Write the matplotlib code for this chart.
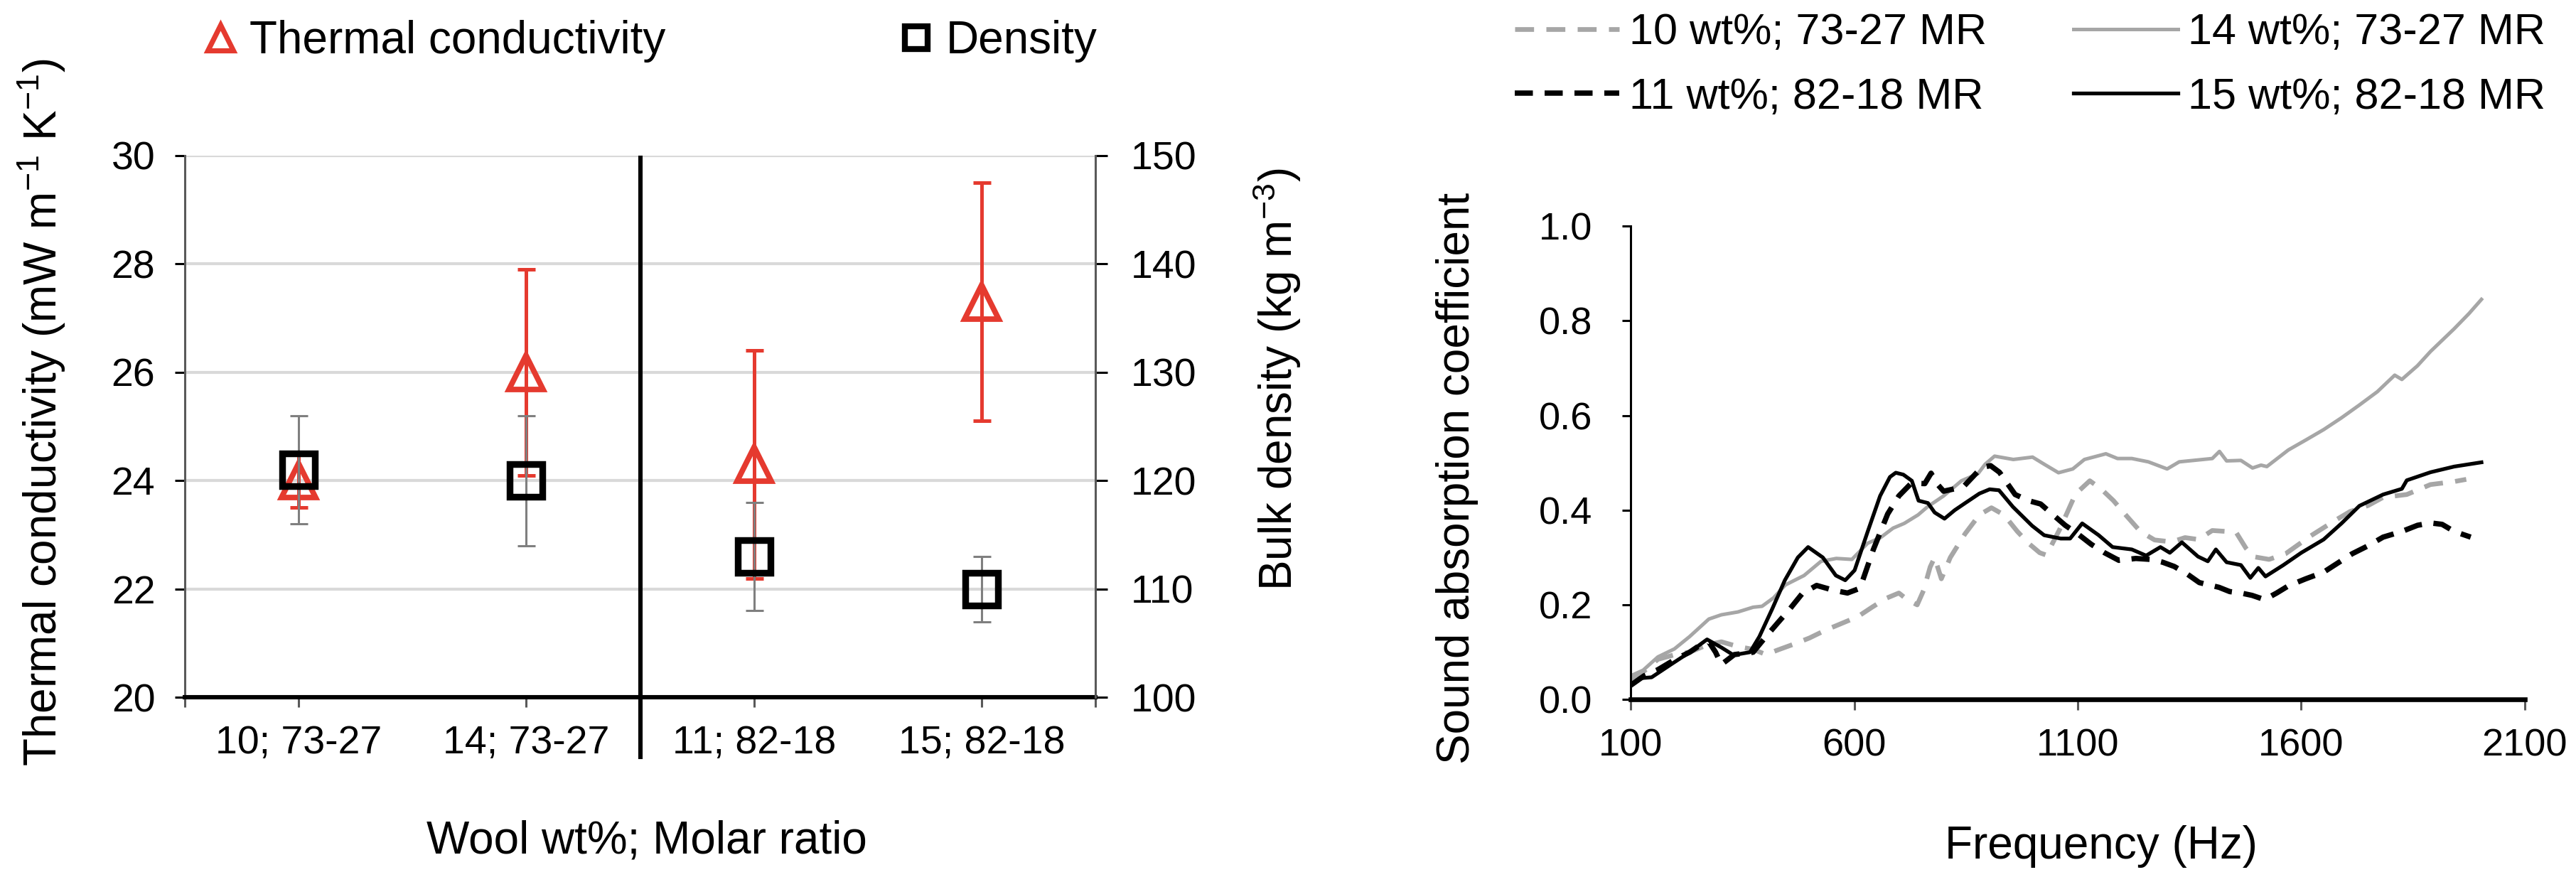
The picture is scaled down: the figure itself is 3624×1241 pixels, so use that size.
import matplotlib
matplotlib.use('Agg')
import matplotlib.pyplot as plt
from matplotlib.lines import Line2D
from matplotlib.ticker import FormatStrFormatter, FixedLocator

plt.rcParams['font.family'] = ['Liberation Sans', 'DejaVu Sans']
plt.rcParams['mathtext.fontset'] = 'custom'
plt.rcParams['mathtext.rm'] = 'Liberation Sans'
plt.rcParams['mathtext.it'] = 'Liberation Sans:italic'
plt.rcParams['mathtext.bf'] = 'Liberation Sans:bold'

# ---------------- data: left panel ----------------
categories = ['10; 73-27', '14; 73-27', '11; 82-18', '15; 82-18']
tc_mean = [24.0, 26.0, 24.3, 27.3]
tc_err = [0.5, 1.9, 2.1, 2.2]
dens_mean = [121, 120, 113, 110]
dens_err = [5, 6, 5, 3]

# ---------------- data: right panel ----------------
f_10 = [100, 130, 161, 200, 232, 270, 303, 340, 374, 403, 430, 465, 500, 537, 570, 608, 640, 672,
        700, 720, 741, 755, 770, 780, 795, 815, 848, 880, 907, 935, 965, 990, 1015, 1030, 1060,
        1095, 1127, 1152, 1180, 1210, 1240, 1272, 1310, 1340, 1370, 1401, 1433, 1455, 1476, 1491,
        1528, 1565, 1620, 1677, 1709, 1750, 1783, 1836, 1889, 1940, 1969]
a_10 = [0.04, 0.06, 0.085, 0.095, 0.10, 0.115, 0.122, 0.112, 0.106, 0.095, 0.105, 0.117, 0.13,
        0.147, 0.16, 0.175, 0.195, 0.214, 0.225, 0.21, 0.20, 0.23, 0.28, 0.30, 0.255, 0.30, 0.35,
        0.39, 0.405, 0.39, 0.355, 0.33, 0.31, 0.305, 0.36, 0.434, 0.462, 0.445, 0.42, 0.387, 0.355,
        0.337, 0.333, 0.342, 0.338, 0.357, 0.355, 0.352, 0.32, 0.302, 0.296, 0.308, 0.345, 0.379,
        0.397, 0.41, 0.427, 0.433, 0.454, 0.46, 0.465]

f_14 = [100, 128, 161, 198, 232, 275, 303, 340, 374, 394, 420, 446, 488, 526, 560, 595, 630, 659,
        687, 712, 743, 764, 800, 840, 877, 893, 914, 956, 999, 1025, 1057, 1089, 1115, 1163, 1189,
        1221, 1258, 1300, 1327, 1380, 1401, 1417, 1433, 1465, 1491, 1510, 1523, 1571, 1610, 1650,
        1690, 1730, 1770, 1809, 1825, 1860, 1889, 1942, 1975, 2003]
a_14 = [0.05, 0.062, 0.09, 0.107, 0.133, 0.17, 0.179, 0.185, 0.195, 0.197, 0.215, 0.242, 0.262,
        0.292, 0.298, 0.296, 0.33, 0.342, 0.362, 0.372, 0.39, 0.407, 0.43, 0.462, 0.477, 0.497,
        0.514, 0.507, 0.512, 0.497, 0.479, 0.487, 0.507, 0.519, 0.509, 0.509, 0.502, 0.487, 0.502,
        0.507, 0.509, 0.524, 0.504, 0.505, 0.489, 0.495, 0.492, 0.527, 0.548, 0.57, 0.595, 0.622,
        0.65, 0.685, 0.676, 0.705, 0.735, 0.783, 0.815, 0.845]

f_11 = [100, 130, 161, 200, 232, 260, 275, 290, 303, 332, 374, 400, 430, 455, 484, 516, 553, 585,
        613, 643, 675, 700, 728, 758, 772, 785, 800, 844, 885, 905, 925, 960, 990, 1017, 1045, 1072,
        1100, 1130, 1160, 1192, 1230, 1263, 1290, 1316, 1345, 1372, 1416, 1440, 1465, 1490, 1518,
        1545, 1571, 1610, 1650, 1714, 1750, 1783, 1825, 1860, 1889, 1915, 1942, 1979]
a_11 = [0.03, 0.05, 0.063, 0.085, 0.10, 0.118, 0.122, 0.10, 0.074, 0.095, 0.10, 0.13, 0.163, 0.19,
        0.224, 0.241, 0.231, 0.225, 0.235, 0.317, 0.392, 0.43, 0.457, 0.456, 0.478, 0.456, 0.44,
        0.449, 0.49, 0.494, 0.48, 0.433, 0.42, 0.413, 0.39, 0.368, 0.35, 0.328, 0.31, 0.294, 0.298,
        0.296, 0.29, 0.281, 0.265, 0.247, 0.237, 0.228, 0.225, 0.22, 0.211, 0.225, 0.24, 0.255,
        0.269, 0.308, 0.325, 0.343, 0.355, 0.368, 0.373, 0.37, 0.355, 0.343]

f_15 = [100, 120, 147, 190, 232, 271, 303, 330, 367, 388, 417, 445, 474, 497, 530, 559, 580, 601,
        630, 658, 680, 693, 710, 729, 744, 765, 780, 802, 825, 850, 880, 903, 924, 955, 998, 1025,
        1062, 1083, 1110, 1147, 1178, 1221, 1253, 1285, 1306, 1333, 1369, 1391, 1409, 1433, 1465,
        1486, 1504, 1520, 1560, 1600, 1650, 1690, 1730, 1783, 1825, 1836, 1889, 1942, 2003]
a_15 = [0.03, 0.045, 0.047, 0.074, 0.10, 0.127, 0.11, 0.094, 0.10, 0.133, 0.192, 0.252, 0.30,
        0.322, 0.30, 0.262, 0.252, 0.273, 0.354, 0.43, 0.47, 0.479, 0.475, 0.462, 0.42, 0.415,
        0.395, 0.382, 0.40, 0.416, 0.435, 0.444, 0.442, 0.407, 0.367, 0.347, 0.34, 0.34, 0.372,
        0.347, 0.322, 0.317, 0.304, 0.322, 0.31, 0.332, 0.302, 0.292, 0.317, 0.29, 0.284, 0.257,
        0.278, 0.26, 0.284, 0.31, 0.338, 0.372, 0.409, 0.433, 0.445, 0.463, 0.48, 0.492, 0.501]

series_labels = ['10 wt%; 73-27 MR', '14 wt%; 73-27 MR', '11 wt%; 82-18 MR', '15 wt%; 82-18 MR']

RED = '#E53A2F'
GRAY_ERR = '#7F7F7F'
LGRAY = '#A6A6A6'
SPINE = '#595959'

TICK_FS = 20
LAB_FS = 23

W, H = 3624, 1241
DPI = 200
fig = plt.figure(figsize=(W / DPI, H / DPI), dpi=DPI)

# ---------------- left panel ----------------
ax = fig.add_axes([260 / W, 1 - 981.4 / H, (1541 - 260) / W, (981.4 - 218.6) / H])
x = list(range(len(categories)))
ax.set_xlim(-0.5, 3.5)
ax.set_ylim(20, 30)
ax.set_yticks([20, 22, 24, 26, 28, 30])
ax.yaxis.grid(True, color='#D9D9D9', lw=1.5, zorder=0)
ax.set_axisbelow(True)
for s in ['top', 'right']:
    ax.spines[s].set_visible(False)
ax.spines['left'].set_color(SPINE)
ax.spines['left'].set_linewidth(1.1)
ax.spines['bottom'].set_color('black')
ax.spines['bottom'].set_linewidth(2.2)
ax.set_xticks(x)
ax.set_xticklabels(categories)
ax.xaxis.set_minor_locator(FixedLocator([-0.5, 3.5]))
ax.tick_params(axis='x', which='both', direction='out', length=5, width=1.1, color=SPINE,
               labelsize=TICK_FS, pad=9)
ax.tick_params(axis='y', direction='out', length=5, width=1.1, color='black',
               labelsize=TICK_FS, pad=10)

ax.errorbar(x, tc_mean, yerr=tc_err, fmt='none', ecolor=RED, elinewidth=1.8,
            capsize=4.5, capthick=1.8, zorder=4)
ax.plot(x, tc_mean, linestyle='none', marker='^', markersize=17, markerfacecolor='none',
        markeredgecolor=RED, markeredgewidth=2.8, zorder=5)
ax.axvline(1.5, ymin=-0.11, ymax=0.995, color='black', lw=2.2, clip_on=False, zorder=6)

ax.set_xlabel('Wool wt%; Molar ratio', fontsize=LAB_FS)
ax.xaxis.set_label_coords(0.507, -0.225)
ax.set_ylabel('Thermal conductivity (mW m$^{-1}$ K$^{-1}$)', fontsize=LAB_FS)
ax.yaxis.set_label_coords(-0.129, 0.526)

ax2 = ax.twinx()
ax2.set_ylim(100, 150)
ax2.set_yticks([100, 110, 120, 130, 140, 150])
for s in ['top', 'left', 'bottom']:
    ax2.spines[s].set_visible(False)
ax2.spines['right'].set_color(SPINE)
ax2.spines['right'].set_linewidth(1.1)
ax2.tick_params(axis='y', direction='out', length=6, width=1.1, color='black',
                labelsize=TICK_FS, pad=12)
ax2.errorbar(x, dens_mean, yerr=dens_err, fmt='none', ecolor=GRAY_ERR, elinewidth=1.1,
             capsize=4.5, capthick=1.1, zorder=3)
ax2.plot(x, dens_mean, linestyle='none', marker='s', markersize=16.5, markerfacecolor='none',
         markeredgecolor='black', markeredgewidth=3.4, zorder=4)
ax2.set_ylabel('Bulk density (kg m$^{-3}$)', fontsize=LAB_FS)
ax2.yaxis.set_label_coords(1.171, 0.587)

h_tc = Line2D([], [], linestyle='none', marker='^', markersize=13, markerfacecolor='none',
              markeredgecolor=RED, markeredgewidth=2.6)
h_d = Line2D([], [], linestyle='none', marker='s', markersize=11.5, markerfacecolor='none',
             markeredgecolor='black', markeredgewidth=3.0)
fig.legend(handles=[h_tc], labels=['Thermal conductivity'], loc='center left',
           bbox_to_anchor=(278 / W, 1 - 58 / H), frameon=False, fontsize=LAB_FS,
           handlelength=1.0, handletextpad=0.15, borderpad=0, borderaxespad=0)
fig.legend(handles=[h_d], labels=['Density'], loc='center left',
           bbox_to_anchor=(1257 / W, 1 - 58 / H), frameon=False, fontsize=LAB_FS,
           handlelength=1.0, handletextpad=0.15, borderpad=0, borderaxespad=0)

# ---------------- right panel ----------------
bx = fig.add_axes([2294 / W, 1 - 984.3 / H, (3552 - 2294) / W, (984.3 - 318) / H])
bx.set_xlim(100, 2100)
bx.set_ylim(0, 1.0)
bx.set_xticks([100, 600, 1100, 1600, 2100])
bx.set_yticks([0.0, 0.2, 0.4, 0.6, 0.8, 1.0])
bx.yaxis.set_major_formatter(FormatStrFormatter('%.1f'))
for s in ['top', 'right']:
    bx.spines[s].set_visible(False)
bx.spines['left'].set_color('black')
bx.spines['left'].set_linewidth(1.1)
bx.spines['bottom'].set_color('black')
bx.spines['bottom'].set_linewidth(2.4)
bx.tick_params(axis='x', direction='out', length=5.5, width=1.1, color=SPINE,
               labelsize=19.5, pad=9)
bx.tick_params(axis='y', direction='out', length=4.5, width=1.1, color='black',
               labelsize=19.5, pad=15)

bx.plot(f_10, a_10, color=LGRAY, lw=2.4, linestyle=(0, (4, 2.6)), label=series_labels[0])
bx.plot(f_14, a_14, color=LGRAY, lw=1.8, linestyle='-', label=series_labels[1])
bx.plot(f_11, a_11, color='black', lw=2.7, linestyle=(0, (3.4, 2.2)), label=series_labels[2])
bx.plot(f_15, a_15, color='black', lw=1.9, linestyle='-', label=series_labels[3])

bx.set_xlabel('Frequency (Hz)', fontsize=LAB_FS)
bx.xaxis.set_label_coords(0.526, -0.265)
bx.set_ylabel('Sound absorption coefficient', fontsize=LAB_FS)
bx.yaxis.set_label_coords(-0.170, 0.467)

handles, labels = bx.get_legend_handles_labels()
order = [0, 2, 1, 3]  # legend fills column by column
fig.legend([handles[i] for i in order], [labels[i] for i in order], ncol=2,
           loc='center left', bbox_to_anchor=(2131 / W, 1 - 91.75 / H), frameon=False,
           fontsize=22, handlelength=2.4, handletextpad=0.23, columnspacing=2.0,
           labelspacing=0.55, borderpad=0, borderaxespad=0)

fig.savefig('out.png', dpi=DPI)
